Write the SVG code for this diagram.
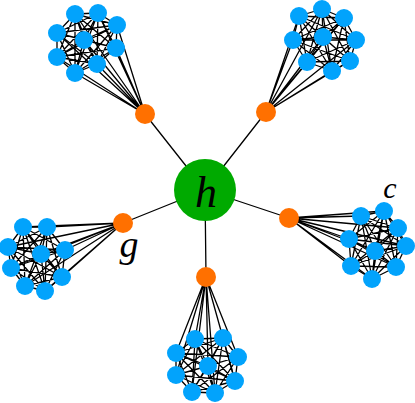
<svg xmlns="http://www.w3.org/2000/svg" width="415" height="403" viewBox="0 0 415 403">
<style>
.e{fill:none;stroke:#000;stroke-width:1.3}
.b{fill:#02a3fc}
.o{fill:#ff7000}
.h{fill:#00aa00}
.t{font-family:"Liberation Serif","DejaVu Serif",serif;font-style:italic;fill:#000;text-anchor:middle}
</style>
<rect width="415" height="403" fill="#fff"/>
<g id="edges">
<path class="e" d="M205 190L145 114M205 190L266 112M205 190L123 223M205 190L289 218M205 190L206 277"/>
<path class="e" d="M75 14L98 13M75 14L117 25M75 14L57 33M75 14L84 40M75 14L116 48M75 14L57 57M75 14L97 64M75 14L75 73M98 13L117 25M98 13L57 33M98 13L84 40M98 13L116 48M98 13L57 57M98 13L97 64M98 13L75 73M117 25L57 33M117 25L84 40M117 25L116 48M117 25L57 57M117 25L97 64M117 25L75 73M57 33L84 40M57 33L116 48M57 33L57 57M57 33L97 64M57 33L75 73M84 40L116 48M84 40L57 57M84 40L97 64M84 40L75 73M116 48L57 57M116 48L97 64M116 48L75 73M57 57L97 64M57 57L75 73M97 64L75 73"/>
<path class="e" d="M145 114L75 14M145 114L98 13M145 114L117 25M145 114L57 33M145 114L84 40M145 114L116 48M145 114L57 57M145 114L97 64M145 114L75 73"/>
<path class="e" d="M299 16L322 9M299 16L344 18M299 16L293 40M299 16L323 37M299 16L356 40M299 16L307 62M299 16L350 61M299 16L332 71M322 9L344 18M322 9L293 40M322 9L323 37M322 9L356 40M322 9L307 62M322 9L350 61M322 9L332 71M344 18L293 40M344 18L323 37M344 18L356 40M344 18L307 62M344 18L350 61M344 18L332 71M293 40L323 37M293 40L356 40M293 40L307 62M293 40L350 61M293 40L332 71M323 37L356 40M323 37L307 62M323 37L350 61M323 37L332 71M356 40L307 62M356 40L350 61M356 40L332 71M307 62L350 61M307 62L332 71M350 61L332 71"/>
<path class="e" d="M266 112L299 16M266 112L322 9M266 112L344 18M266 112L293 40M266 112L323 37M266 112L356 40M266 112L307 62M266 112L350 61M266 112L332 71"/>
<path class="e" d="M23 227L47 227M23 227L8 247M23 227L41 254M23 227L65 250M23 227L11 268M23 227L62 277M23 227L25 286M23 227L45 291M47 227L8 247M47 227L41 254M47 227L65 250M47 227L11 268M47 227L62 277M47 227L25 286M47 227L45 291M8 247L41 254M8 247L65 250M8 247L11 268M8 247L62 277M8 247L25 286M8 247L45 291M41 254L65 250M41 254L11 268M41 254L62 277M41 254L25 286M41 254L45 291M65 250L11 268M65 250L62 277M65 250L25 286M65 250L45 291M11 268L62 277M11 268L25 286M11 268L45 291M62 277L25 286M62 277L45 291M25 286L45 291"/>
<path class="e" d="M123 223L23 227M123 223L47 227M123 223L8 247M123 223L41 254M123 223L65 250M123 223L11 268M123 223L62 277M123 223L25 286M123 223L45 291"/>
<path class="e" d="M361 216L384 211M361 216L398 228M361 216L349 239M361 216L375 251M361 216L406 246M361 216L351 266M361 216L396 267M361 216L372 279M384 211L398 228M384 211L349 239M384 211L375 251M384 211L406 246M384 211L351 266M384 211L396 267M384 211L372 279M398 228L349 239M398 228L375 251M398 228L406 246M398 228L351 266M398 228L396 267M398 228L372 279M349 239L375 251M349 239L406 246M349 239L351 266M349 239L396 267M349 239L372 279M375 251L406 246M375 251L351 266M375 251L396 267M375 251L372 279M406 246L351 266M406 246L396 267M406 246L372 279M351 266L396 267M351 266L372 279M396 267L372 279"/>
<path class="e" d="M289 218L361 216M289 218L384 211M289 218L398 228M289 218L349 239M289 218L375 251M289 218L406 246M289 218L351 266M289 218L396 267M289 218L372 279"/>
<path class="e" d="M195 339L223 338M195 339L176 353M195 339L238 357M195 339L208 366M195 339L176 375M195 339L235 381M195 339L192 392M195 339L215 393M223 338L176 353M223 338L238 357M223 338L208 366M223 338L176 375M223 338L235 381M223 338L192 392M223 338L215 393M176 353L238 357M176 353L208 366M176 353L176 375M176 353L235 381M176 353L192 392M176 353L215 393M238 357L208 366M238 357L176 375M238 357L235 381M238 357L192 392M238 357L215 393M208 366L176 375M208 366L235 381M208 366L192 392M208 366L215 393M176 375L235 381M176 375L192 392M176 375L215 393M235 381L192 392M235 381L215 393M192 392L215 393"/>
<path class="e" d="M206 277L195 339M206 277L223 338M206 277L176 353M206 277L238 357M206 277L208 366M206 277L176 375M206 277L235 381M206 277L192 392M206 277L215 393"/>
</g>
<g id="hub"><circle class="h" cx="205" cy="190" r="31"/><text class="t" x="206" y="207" font-size="44">h</text></g>
<g id="o1"><circle class="o" cx="145" cy="114" r="10"/></g>
<g id="o2"><circle class="o" cx="266" cy="112" r="10"/></g>
<g id="g"><circle class="o" cx="123" cy="223" r="10"/><text class="t" x="129" y="257" font-size="38">g</text></g>
<g id="c"><circle class="o" cx="289" cy="218" r="10"/><text class="t" x="390" y="198" font-size="30">c</text></g>
<g id="o5"><circle class="o" cx="206" cy="277" r="10"/></g>
<g id="a1"><circle class="b" cx="75" cy="14" r="9"/></g>
<g id="a2"><circle class="b" cx="98" cy="13" r="9"/></g>
<g id="a3"><circle class="b" cx="117" cy="25" r="9"/></g>
<g id="a4"><circle class="b" cx="57" cy="33" r="9"/></g>
<g id="a5"><circle class="b" cx="84" cy="40" r="9"/></g>
<g id="a6"><circle class="b" cx="116" cy="48" r="9"/></g>
<g id="a7"><circle class="b" cx="57" cy="57" r="9"/></g>
<g id="a8"><circle class="b" cx="97" cy="64" r="9"/></g>
<g id="a9"><circle class="b" cx="75" cy="73" r="9"/></g>
<g id="b1"><circle class="b" cx="299" cy="16" r="9"/></g>
<g id="b2"><circle class="b" cx="322" cy="9" r="9"/></g>
<g id="b3"><circle class="b" cx="344" cy="18" r="9"/></g>
<g id="b4"><circle class="b" cx="293" cy="40" r="9"/></g>
<g id="b5"><circle class="b" cx="323" cy="37" r="9"/></g>
<g id="b6"><circle class="b" cx="356" cy="40" r="9"/></g>
<g id="b7"><circle class="b" cx="307" cy="62" r="9"/></g>
<g id="b8"><circle class="b" cx="350" cy="61" r="9"/></g>
<g id="b9"><circle class="b" cx="332" cy="71" r="9"/></g>
<g id="c1"><circle class="b" cx="23" cy="227" r="9"/></g>
<g id="c2"><circle class="b" cx="47" cy="227" r="9"/></g>
<g id="c3"><circle class="b" cx="8" cy="247" r="9"/></g>
<g id="c4"><circle class="b" cx="41" cy="254" r="9"/></g>
<g id="c5"><circle class="b" cx="65" cy="250" r="9"/></g>
<g id="c6"><circle class="b" cx="11" cy="268" r="9"/></g>
<g id="c7"><circle class="b" cx="62" cy="277" r="9"/></g>
<g id="c8"><circle class="b" cx="25" cy="286" r="9"/></g>
<g id="c9"><circle class="b" cx="45" cy="291" r="9"/></g>
<g id="d1"><circle class="b" cx="361" cy="216" r="9"/></g>
<g id="d2"><circle class="b" cx="384" cy="211" r="9"/></g>
<g id="d3"><circle class="b" cx="398" cy="228" r="9"/></g>
<g id="d4"><circle class="b" cx="349" cy="239" r="9"/></g>
<g id="d5"><circle class="b" cx="375" cy="251" r="9"/></g>
<g id="d6"><circle class="b" cx="406" cy="246" r="9"/></g>
<g id="d7"><circle class="b" cx="351" cy="266" r="9"/></g>
<g id="d8"><circle class="b" cx="396" cy="267" r="9"/></g>
<g id="d9"><circle class="b" cx="372" cy="279" r="9"/></g>
<g id="e1"><circle class="b" cx="195" cy="339" r="9"/></g>
<g id="e2"><circle class="b" cx="223" cy="338" r="9"/></g>
<g id="e3"><circle class="b" cx="176" cy="353" r="9"/></g>
<g id="e4"><circle class="b" cx="238" cy="357" r="9"/></g>
<g id="e5"><circle class="b" cx="208" cy="366" r="9"/></g>
<g id="e6"><circle class="b" cx="176" cy="375" r="9"/></g>
<g id="e7"><circle class="b" cx="235" cy="381" r="9"/></g>
<g id="e8"><circle class="b" cx="192" cy="392" r="9"/></g>
<g id="e9"><circle class="b" cx="215" cy="393" r="9"/></g>
</svg>
